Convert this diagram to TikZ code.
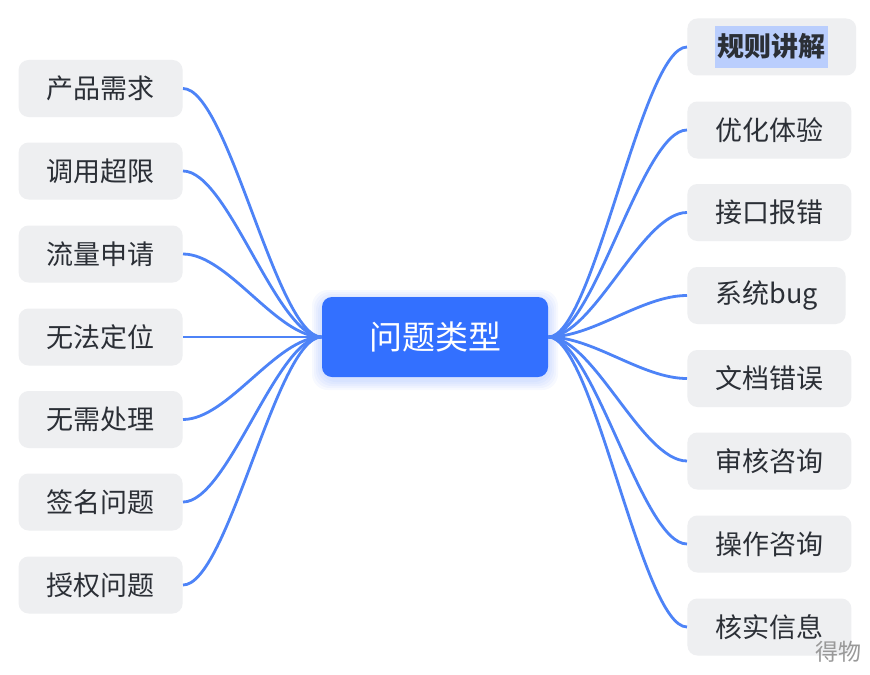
\documentclass[tikz,border=0pt]{standalone}
\usepackage{fontspec}
\setmainfont{Noto Sans CJK SC}
\definecolor{boxgray}{HTML}{EEEFF1}
\definecolor{txtdark}{HTML}{2B2F36}
\definecolor{linkblue}{HTML}{4D83F7}
\definecolor{rootblue}{HTML}{3370FF}
\definecolor{markblue}{HTML}{BACEFD}
\tikzset{
  leaf/.style={fill=boxgray, rounded corners=5pt, text=txtdark, font=\fontsize{13.5pt}{16pt}\selectfont,
    inner xsep=14pt, minimum height=28.5pt},
  root/.style={fill=rootblue, rounded corners=5pt, text=white, font=\fontsize{16.5pt}{19pt}\selectfont,
    minimum width=113pt, minimum height=40pt},
  link/.style={draw=linkblue, line width=1.4pt}
}
\begin{document}
\begin{tikzpicture}[x=0.5pt, y=-0.5pt]
  \useasboundingbox[fill=white] (0,0) rectangle (870,674);
  % soft glow under the root
  \foreach \g in {1,...,5}
    \fill[rootblue, opacity=0.04, rounded corners=8pt] (322-\g*2,297-\g*2+3) rectangle (548+\g*2,377+\g*2+3);
  \node[root] (Q) at (435,337) {问题类型};
  % left side
  \node[leaf, anchor=east] (L1) at (183,88.5) {产品需求};
  \node[leaf, anchor=east] (L2) at (183,171) {调用超限};
  \node[leaf, anchor=east] (L3) at (183,254) {流量申请};
  \node[leaf, anchor=east] (L4) at (183,337) {无法定位};
  \node[leaf, anchor=east] (L5) at (183,419.5) {无需处理};
  \node[leaf, anchor=east] (L6) at (183,502) {签名问题};
  \node[leaf, anchor=east] (L7) at (183,585) {授权问题};
  % right side
  \node[leaf, anchor=west] (R1) at (687,47)
    {\setlength{\fboxsep}{1.2pt}\colorbox{markblue}{\rule[-4.5pt]{0pt}{19pt}\bfseries 规则讲解}};
  \node[leaf, anchor=west] (R2) at (687,130) {优化体验};
  \node[leaf, anchor=west] (R3) at (687,212.5) {接口报错};
  \node[leaf, anchor=west] (R4) at (687,295.5) {系统bug};
  \node[leaf, anchor=west] (R5) at (687,378.5) {文档错误};
  \node[leaf, anchor=west] (R6) at (687,461) {审核咨询};
  \node[leaf, anchor=west] (R7) at (687,544) {操作咨询};
  \node[leaf, anchor=west] (R8) at (687,627) {核实信息};
  \foreach \n in {L1,L2,L3,L4,L5,L6,L7}
    \draw[link] (Q.west) .. controls +(-45,0) and +(45,0) .. (\n.east);
  \foreach \n in {R1,R2,R3,R4,R5,R6,R7,R8}
    \draw[link] (Q.east) .. controls +(45,0) and +(-45,0) .. (\n.west);
  \node[text=gray!80, font=\fontsize{11.5pt}{13pt}\selectfont] (W) at (838,652) {得物};
\end{tikzpicture}
\end{document}
